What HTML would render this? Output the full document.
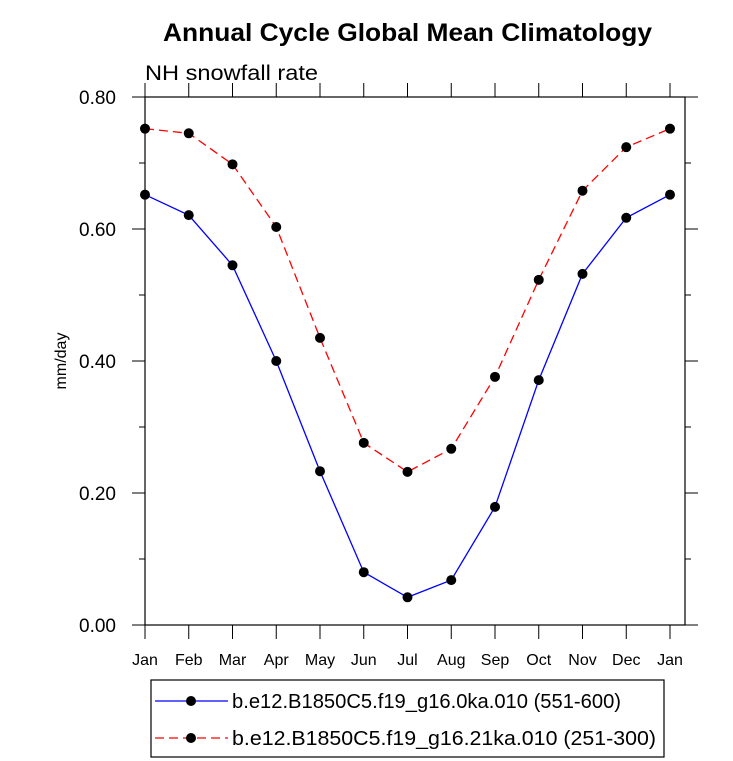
<!DOCTYPE html>
<html><head><meta charset="utf-8"><style>body{margin:0;background:#fff}svg{display:block;font-family:"Liberation Sans",sans-serif}</style></head>
<body>
<svg id="c" width="733" height="761">
<text x="163" y="41" textLength="489" lengthAdjust="spacingAndGlyphs" font-size="25" font-weight="bold">Annual Cycle Global Mean Climatology</text>
<text x="145" y="80" textLength="173" lengthAdjust="spacingAndGlyphs" font-size="21">NH snowfall rate</text>
<text transform="translate(66,361) rotate(-90)" text-anchor="middle" font-size="16">mm/day</text>
<g id="ax"></g><g id="series"></g>
<rect x="151" y="680" width="513" height="77" fill="none" stroke="#000" stroke-width="1.2"/>
<g><line x1="155" y1="701" x2="228" y2="701" stroke="#00f" stroke-width="1.3"/><circle cx="191" cy="701" r="5" fill="#000"/><text x="232" y="708" textLength="389" lengthAdjust="spacingAndGlyphs" font-size="20">b.e12.B1850C5.f19_g16.0ka.010 (551-600)</text></g>
<g><line x1="155" y1="738" x2="228" y2="738" stroke="#f00" stroke-width="1.3" stroke-dasharray="9,5"/><circle cx="191" cy="738" r="5" fill="#000"/><text x="232" y="745" textLength="424" lengthAdjust="spacingAndGlyphs" font-size="20">b.e12.B1850C5.f19_g16.21ka.010 (251-300)</text></g>
</svg>
<script>
const months=["Jan","Feb","Mar","Apr","May","Jun","Jul","Aug","Sep","Oct","Nov","Dec","Jan"];
const blueVals=[0.652,0.621,0.545,0.40,0.233,0.080,0.042,0.068,0.179,0.371,0.532,0.617,0.652];
const redVals=[0.752,0.745,0.698,0.603,0.435,0.276,0.232,0.267,0.376,0.523,0.658,0.724,0.752];
const yTicks=[0,0.2,0.4,0.6,0.8];
const yTickLabels=["0.00","0.20","0.40","0.60","0.80"];
const yMinor=[0.1,0.3,0.5,0.7];
const NS="http://www.w3.org/2000/svg";
const X=i=>145+i*43.75, Y=v=>625-v*660;
function mk(t,a,p){const e=document.createElementNS(NS,t);for(const k in a)e.setAttribute(k,a[k]);p.appendChild(e);return e;}
const ax=document.getElementById('ax');
const L=145,R=685,T=97,B=625;
mk('rect',{x:L,y:T,width:R-L,height:B-T,fill:'none',stroke:'#000','stroke-width':1.2},ax);
yTicks.forEach((v,i)=>{const y=Y(v);
mk('line',{x1:L-13,y1:y,x2:L,y2:y,stroke:'#000'},ax);mk('line',{x1:R,y1:y,x2:R+13,y2:y,stroke:'#000'},ax);
const t=mk('text',{x:116,y:y+7,'text-anchor':'end','font-size':19},ax);t.textContent=yTickLabels[i];

});
yMinor.forEach(v=>{const y=Y(v);mk('line',{x1:L-6,y1:y,x2:L,y2:y,stroke:'#000'},ax);mk('line',{x1:R,y1:y,x2:R+6,y2:y,stroke:'#000'},ax);});
months.forEach((m,i)=>{const x=X(i);
mk('line',{x1:x,y1:B,x2:x,y2:B+14,stroke:'#000'},ax);mk('line',{x1:x,y1:T-14,x2:x,y2:T,stroke:'#000'},ax);
const t=mk('text',{x:x,y:665,'text-anchor':'middle','font-size':16},ax);t.textContent=m;

});
const sg=document.getElementById('series');
[[blueVals,'#00f','none','series-blue'],[redVals,'#f00','9,5','series-red']].forEach(([vals,c,d,n])=>{
const g=mk('g',{},sg);


mk('polyline',{points:vals.map((v,i)=>X(i)+','+Y(v)).join(' '),fill:'none',stroke:c,'stroke-width':1.3,'stroke-dasharray':d},g);
vals.forEach((v,i)=>{const p=mk('circle',{cx:X(i),cy:Y(v),r:5,fill:'#000'},g);

});});
</script>
</body></html>
